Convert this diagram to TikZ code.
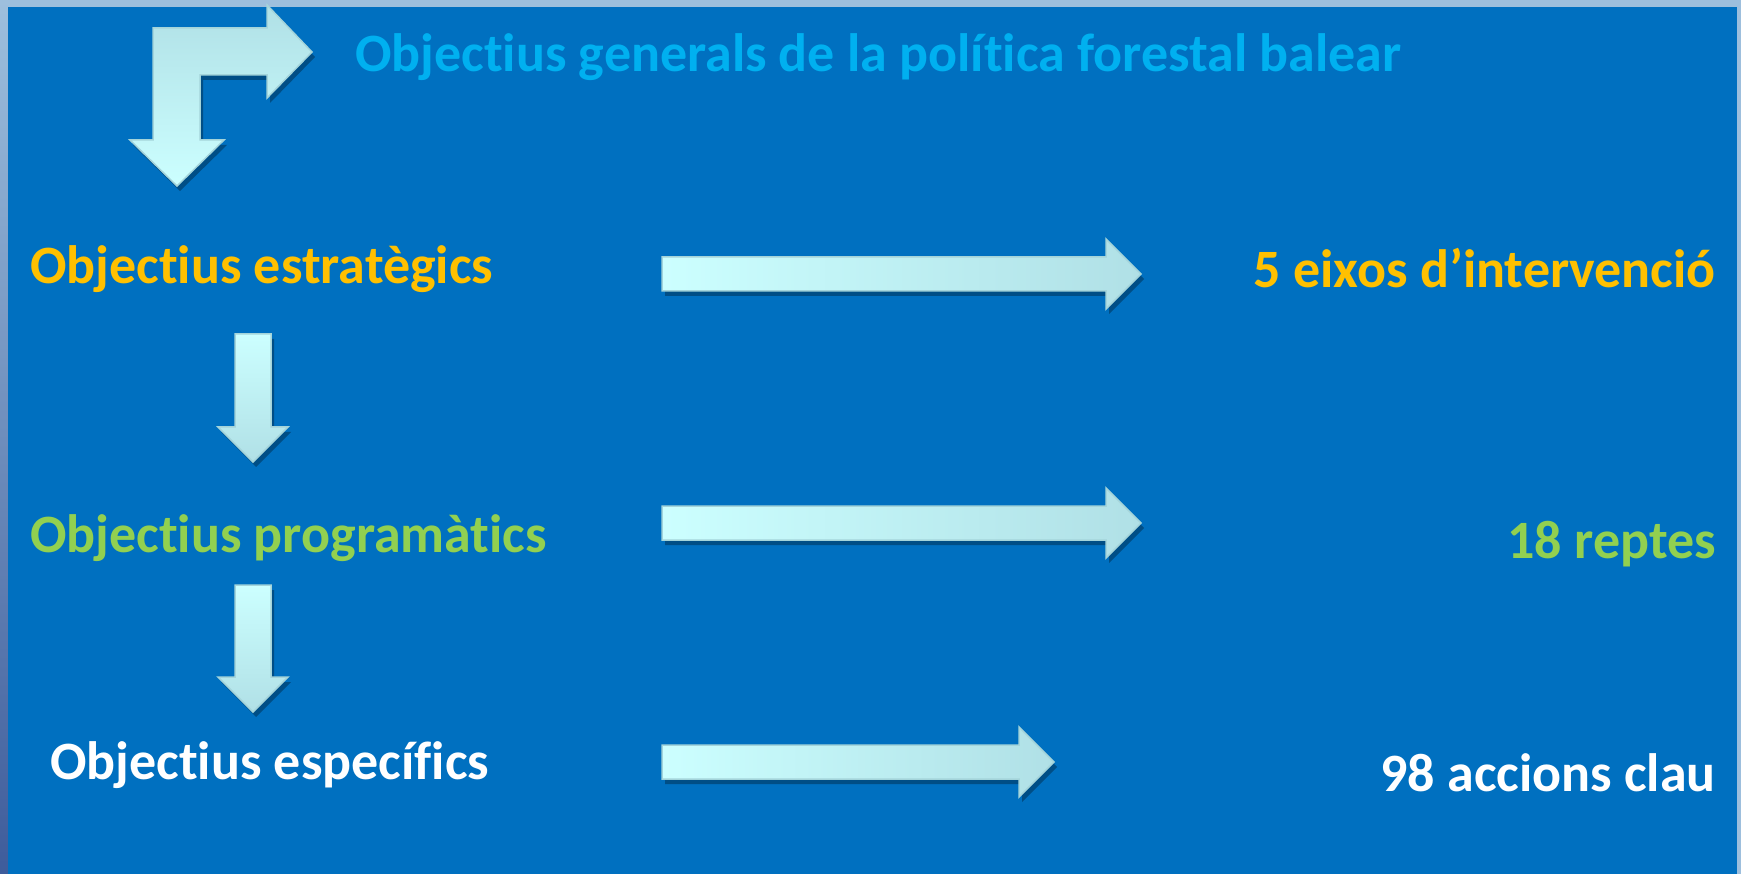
\documentclass[tikz,border=0pt]{standalone}
\usepackage{fontspec}
\setmainfont{Carlito}[Ligatures=NoCommon]
\usetikzlibrary{shadows}

\definecolor{panelblue}{HTML}{0070C0}
\definecolor{frameblue}{HTML}{9DBFDD}
\definecolor{framedark}{HTML}{3E5C9B}
\definecolor{titleblue}{HTML}{00B0F0}
\definecolor{gold}{HTML}{FFC000}
\definecolor{leafgreen}{HTML}{92D050}
\definecolor{iceA}{HTML}{CCFFFF}
\definecolor{iceB}{HTML}{B0E0E6}
\definecolor{iceedge}{HTML}{A4D4DA}

\begin{document}
\begin{tikzpicture}[
  x=1pt, y=-1pt,
  txt/.style={font=\fontsize{54}{58}\selectfont\bfseries, inner sep=0pt},
  shadowed/.style={drop shadow={opacity=0.3, fill=black, shadow xshift=3pt, shadow yshift=-5pt}},
  harrow/.style={shadowed, draw=iceedge, line width=1.5pt, left color=iceA, right color=iceB},
  varrow/.style={shadowed, draw=iceedge, line width=1.5pt, top color=iceA, bottom color=iceB},
  barrow/.style={shadowed, draw=iceedge, line width=1.5pt, top color=iceB, bottom color=iceA}
]
\useasboundingbox (0,0) rectangle (1741,874);

% frame and panel
\fill[frameblue] (0,0) rectangle (1741,874);
\shade[top color=frameblue, bottom color=framedark] (0,0) rectangle (8,874);
\fill[panelblue] (8,7) rectangle (1737,874);

% bent arrow
\path[barrow] (153,140) -- (153,28) -- (267,28) -- (267,5) -- (312,52) -- (267,98)
  -- (267,75) -- (200,75) -- (200,140) -- (224,140) -- (177,186) -- (130,140) -- cycle;

% down arrows
\foreach \yt/\hb in {334/427, 585/677}
  \path[varrow] (235,\yt) -- (271,\yt) -- (271,\hb) -- (288,\hb) -- (253,\hb+35)
    -- (218,\hb) -- (235,\hb) -- cycle;

% right arrows
\foreach \yc/\hb in {274/1106, 523/1106, 762/1019}
  \path[harrow] (662,\yc-17) -- (\hb,\yc-17) -- (\hb,\yc-35) -- (\hb+35,\yc)
    -- (\hb,\yc+35) -- (\hb,\yc+17) -- (662,\yc+17) -- cycle;

\node[txt, text=titleblue, anchor=base west] (gen) at (355,72) {Objectius generals de la política forestal balear};
\node[txt, text=gold, anchor=base west] (estr) at (30,284) {Objectius estratègics};
\node[txt, text=gold, anchor=base east] (eixos) at (1716,288) {5 eixos d’intervenció};
\node[txt, text=leafgreen, anchor=base west] (prog) at (30,552) {Objectius programàtics};
\node[txt, text=leafgreen, anchor=base east] (reptes) at (1716,558) {18 reptes};
\node[txt, text=white, anchor=base west] (espec) at (50,779) {Objectius específics};
\node[txt, text=white, anchor=base east] (accions) at (1716,791) {98 accions clau};

\end{tikzpicture}
\end{document}
